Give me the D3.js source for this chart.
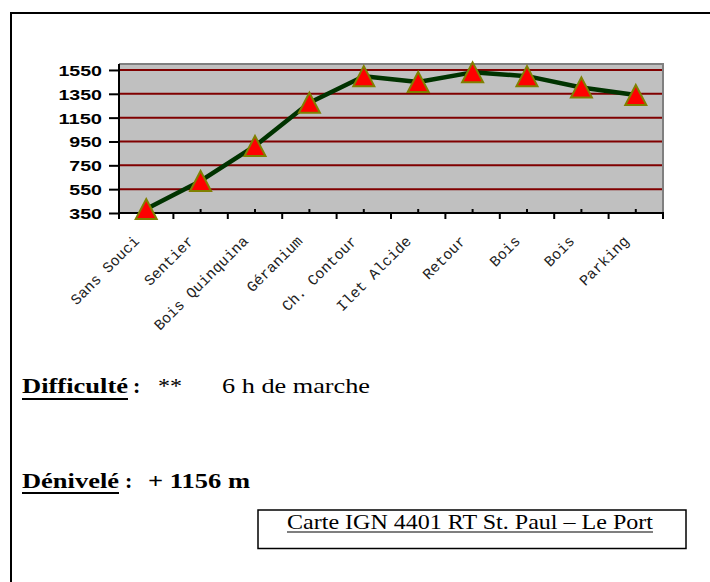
<!DOCTYPE html>
<html><head><meta charset="utf-8">
<script src="https://cdn.jsdelivr.net/npm/d3@7"></script>
<style>
html,body{margin:0;padding:0;background:#fff;}
svg{display:block;}
</style></head>
<body>
<svg id="c" width="710" height="582"></svg>
<script>
// ---- data ----
const categories = ["Sans Souci","Sentier","Bois Quinquina","Géranium","Ch. Contour","Ilet Alcide","Retour","Bois","Bois","Parking"];
const altitudes = [383, 619, 912, 1275, 1498, 1449, 1530, 1498, 1403, 1340];
const yTicks = [350, 550, 750, 950, 1150, 1350, 1550];
const yDomain = [350, 1600];

(function(){
const svg = d3.select("#c");

// outer frame (cropped at right/bottom)
svg.append("path").attr("d","M11,582 V13 H710").attr("fill","none").attr("stroke","#000").attr("stroke-width",2);

const pL = 119, pR = 663, pT = 64, pB = 213;
const x = d3.scaleBand().domain(d3.range(categories.length)).range([pL, pR]).paddingInner(0).paddingOuter(0);
const y = d3.scaleLinear().domain(yDomain).range([pB, pT]);

// plot area
svg.append("rect").attr("x", pL).attr("y", pT).attr("width", pR-pL).attr("height", pB-pT).attr("fill","#c0c0c0");
svg.append("path").attr("d",`M${pL},${pT} H${pR} V${pB}`).attr("fill","none").attr("stroke","#808080").attr("stroke-width",2);

// gridlines
svg.append("g").selectAll("line").data(yTicks.filter(v=>v>yDomain[0])).join("line")
  .attr("x1", pL).attr("x2", pR-1)
  .attr("y1", d=>y(d)).attr("y2", d=>y(d))
  .attr("stroke","#800000").attr("stroke-width",2);

// y axis
const yAxis = svg.append("g").attr("transform",`translate(${pL},0)`)
  .call(d3.axisLeft(y).tickValues(yTicks).tickSize(10).tickPadding(7).tickFormat(d3.format("d")));
yAxis.select(".domain").attr("stroke","#000").attr("stroke-width",2).attr("d",`M0,${pT}V${pB}`);
yAxis.selectAll(".tick line").attr("stroke","#000").attr("stroke-width",2);
yAxis.selectAll(".tick text")
  .attr("font-family","'Liberation Sans', Arial, sans-serif").attr("font-weight","bold").attr("font-size",15.5)
  .attr("fill","#000").attr("dy","0.35em")
  .attr("textLength", function(d){ return String(d).length*10.9; })
  .attr("lengthAdjust","spacingAndGlyphs");

// x axis
const xg = svg.append("g");
xg.append("line").attr("x1",pL-1).attr("x2",pR+1).attr("y1",pB).attr("y2",pB).attr("stroke","#000").attr("stroke-width",2);
const bounds = d3.range(categories.length+1).map(i => i < categories.length ? x(i) : x(categories.length-1)+x.bandwidth());
xg.selectAll("line.maj").data(bounds).join("line").attr("class","maj")
  .attr("x1",d=>d).attr("x2",d=>d).attr("y1",pB).attr("y2",pB+6).attr("stroke","#000").attr("stroke-width",2);
xg.selectAll("line.min").data(d3.range(categories.length)).join("line").attr("class","min")
  .attr("x1",d=>x(d)+x.bandwidth()/2).attr("x2",d=>x(d)+x.bandwidth()/2).attr("y1",pB-4).attr("y2",pB).attr("stroke","#000").attr("stroke-width",2);

// category labels
xg.selectAll("text").data(categories).join("text")
  .attr("transform",(d,i)=>`translate(${x(i)+x.bandwidth()/2-6},${pB+29}) rotate(-45)`)
  .attr("text-anchor","end")
  .attr("font-family","'Liberation Mono', 'Courier New', monospace")
  .attr("font-size",15).attr("fill","#222")
  .text(d=>d);

// line
const line = d3.line().x((d,i)=>x(i)+x.bandwidth()/2).y(d=>y(d));
svg.append("path").datum(altitudes).attr("d",line).attr("fill","none")
  .attr("stroke","#003300").attr("stroke-width",4.5).attr("stroke-linejoin","round");

// markers
svg.append("g").selectAll("path").data(altitudes).join("path")
  .attr("transform",(d,i)=>`translate(${x(i)+x.bandwidth()/2},${y(d)})`)
  .attr("d","M0,-10 L10.5,10 L-10.5,10 Z")
  .attr("fill","#ff0000").attr("stroke","#808000").attr("stroke-width",2).attr("stroke-linejoin","miter");

// ---- texts below ----
const serif = "'Liberation Serif', 'Times New Roman', serif";
function txt(s, xx, yy, opts){
  const t = svg.append("text").attr("x",xx).attr("y",yy).attr("font-family",serif)
    .attr("font-size",opts.size||22).attr("font-weight",opts.bold?"bold":"normal").attr("fill","#000").text(s);
  if(opts.len){ t.attr("textLength",opts.len).attr("lengthAdjust","spacingAndGlyphs"); }
  return t;
}
function ul(x1,x2,yy,w){ svg.append("line").attr("x1",x1).attr("x2",x2).attr("y1",yy).attr("y2",yy).attr("stroke","#000").attr("stroke-width",w); }

txt("Difficulté", 22, 393, {bold:true, len:106});
ul(22,128,399,2);
txt(":", 133, 393, {bold:true});
txt("**", 158, 393, {len:24});
txt("6 h de marche", 222, 393, {len:148});

txt("Dénivelé", 22, 488, {bold:true, len:97});
ul(22,119,493,2);
txt(":", 125, 488, {bold:true});
txt("+ 1156 m", 148, 488, {bold:true, len:102});

svg.append("rect").attr("x",258).attr("y",510).attr("width",428).attr("height",38.5)
  .attr("fill","none").attr("stroke","#000").attr("stroke-width",1.5);
txt("Carte IGN 4401 RT St. Paul – Le Port", 287, 529, {size:21.5, len:366});
ul(287,653,532,1.2);
})();
</script>
</body></html>
